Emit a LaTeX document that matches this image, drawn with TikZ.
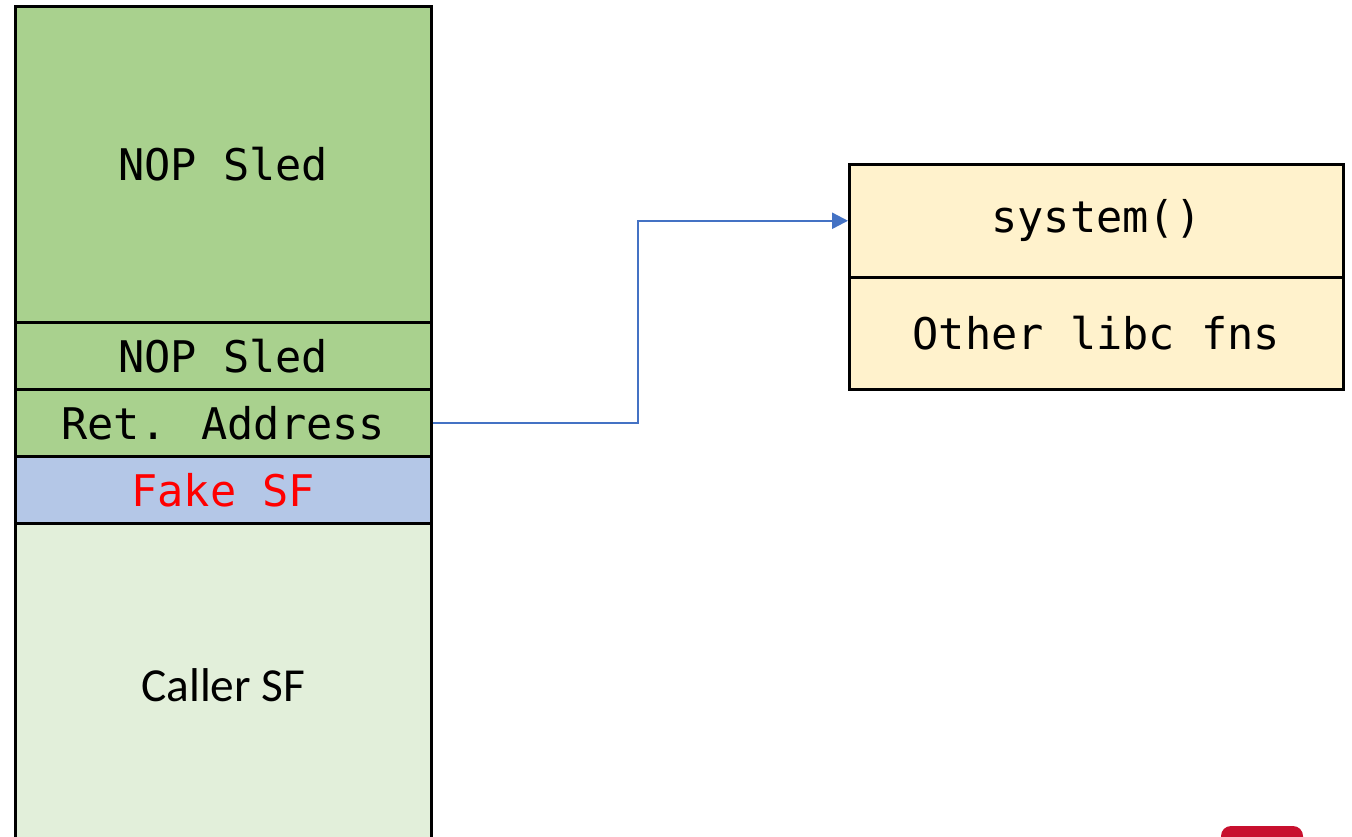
\documentclass[tikz,border=0pt]{standalone}
\usepackage{fontspec}
\newfontfamily\codefont{DejaVu Sans Mono}
\newfontfamily\labelfont{Carlito}
\usetikzlibrary{arrows.meta}
\definecolor{sledgreen}{HTML}{A9D18E}
\definecolor{callergreen}{HTML}{E2EFDA}
\definecolor{fakeblue}{HTML}{B4C7E7}
\definecolor{libcyellow}{HTML}{FFF2CC}
\definecolor{linkblue}{HTML}{4472C4}
\definecolor{badgered}{HTML}{C8102E}
\tikzset{
  cell/.style={draw=black, line width=1.25pt, inner sep=0pt, anchor=north west,
    font=\codefont\fontsize{21.8}{24}\selectfont},
  stackcell/.style={cell, minimum width=208pt},
  libccell/.style={cell, minimum width=247pt},
  link/.style={draw=linkblue, line width=1.2pt, -{Triangle[length=8pt,width=8pt]}}
}
\begin{document}
\begin{tikzpicture}[x=0.5pt, y=-0.5pt]
\useasboundingbox (0,0) rectangle (1352,836);
\begin{scope}
\clip (0,0) rectangle (1352,836);
% stack column
\node[stackcell, fill=callergreen, minimum height=162pt,
  font=\labelfont\fontsize{23.7}{26}\selectfont] (caller) at (14,522) {Caller SF};
\node[stackcell, fill=sledgreen, minimum height=158pt] (sledtop) at (14,5) {NOP Sled};
\node[stackcell, fill=sledgreen, minimum height=33.5pt] (sled) at (14,321) {NOP Sled};
\node[stackcell, fill=sledgreen, minimum height=33.5pt] (ret) at (14,388) {Ret. Address};
\node[stackcell, fill=fakeblue, minimum height=33.5pt, text=red] (fake) at (14,455) {Fake SF};
% libc functions
\node[libccell, fill=libcyellow, minimum height=56.5pt] (sys) at (848,163) {system()};
\node[libccell, fill=libcyellow, minimum height=56pt] (other) at (848,276) {Other libc fns};
% return address redirected to system()
\coordinate (bend) at (638,0);
\draw[link] (ret.east) -- (bend |- ret.east) |- (sys.west);
% corner badge
\fill[badgered, rounded corners=5pt] (1221,826) rectangle (1303,870);
\end{scope}
\end{tikzpicture}
\end{document}
